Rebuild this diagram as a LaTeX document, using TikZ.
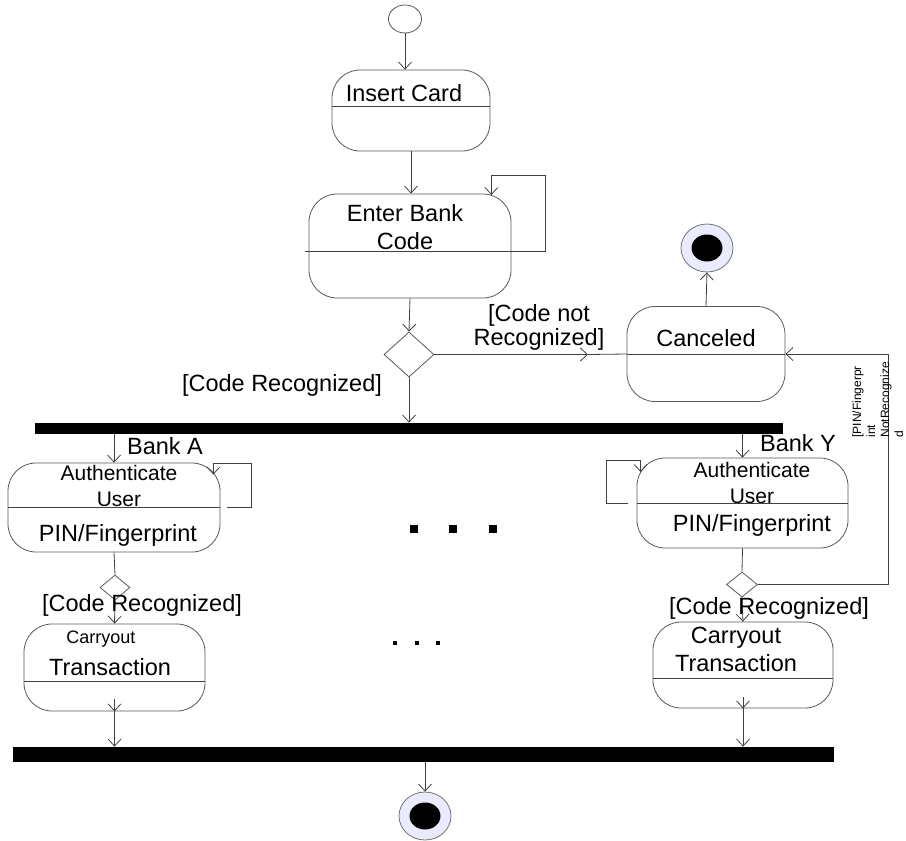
\documentclass[tikz,border=0pt]{standalone}
\usepackage{fontspec}
\setmainfont{Liberation Sans}
\usetikzlibrary{arrows.meta, shapes.geometric}
\tikzset{>={Straight Barb[length=7pt,width=13pt]}}

\begin{document}
\begin{tikzpicture}[
    x = 1pt, y = -1pt,
    line width = 0.8pt,
    state/.style = {draw=black!65, rounded corners=28pt, inner sep=0pt},
    decision/.style = {draw=black!65, diamond, inner sep=0pt},
    bar/.style = {fill=black, inner sep=0pt},
    final/.style = {ellipse, draw=black!55, fill=blue!8, inner sep=0pt,
        minimum width=52pt, minimum height=48pt},
    dot/.style = {ellipse, fill=black, inner sep=0pt,
        minimum width=31pt, minimum height=27pt},
    txt/.style = {inner sep=0pt, align=center, font=\fontsize{23.5}{28}\selectfont},
    midtxt/.style = {inner sep=0pt, align=center, font=\fontsize{21}{26}\selectfont},
    tinytxt/.style = {inner sep=0pt, align=left, font=\fontsize{12}{14}\selectfont},
    conn/.style = {draw=black!75, ->},
    wire/.style = {draw=black!75}
  ]
  \useasboundingbox (0,0) rectangle (906,841);

  % upper part
  \node[ellipse, draw=black!65, inner sep=0pt, minimum width=33pt, minimum height=28pt] (START) at (405,19) {};
  \node[state, minimum width=158pt, minimum height=81pt] (INS) at (411,110.5) {};
  \node[txt] (INSt) at (404,93) {Insert Card};
  \node[state, minimum width=202pt, minimum height=104pt] (EBC) at (410,246) {};
  \node[txt] (EBCt) at (405,227) {Enter Bank\\Code};
  \node[decision, minimum width=50pt, minimum height=45pt] (D1) at (409,354.5) {};
  \node[state, minimum width=158pt, minimum height=95pt] (CANC) at (706,354) {};
  \node[txt] (CANCt) at (706,338) {Canceled};
  \node[final] (END1) at (707,248) {};
  \node[dot] (END1c) at (END1) {};

  \draw[wire] (INS.west |- 0,106) -- (INS.east |- 0,106);
  \draw[wire] (305,251) -- (EBC.east |- 0,251);
  \draw[wire] (CANC.west) -- (CANC.east);

  \draw[conn] (START.south) -- (START.south |- INS.north);
  \draw[conn] (INS.south |- INS.south) -- (INS.south |- EBC.north);
  \draw[conn] ([yshift=-5pt]EBC.east) -- ++(34,0) -- ++(0,-76) -- ++(-54,0) -- ++(0,20);
  \draw[conn] (EBC.south) -- (D1.north);
  \coordinate (MID) at (588,354.5);
  \draw[conn] (D1.east) -- (MID);
  \draw[wire] (MID) -- (CANC.west);
  \draw[conn] (CANC.north) -- (END1.south);
  \node[txt, font=\fontsize{23.5}{24}\selectfont] (NOTREC) at (539,327) {[Code not\\Recognized]};
  \node[txt] (REC) at (282,385) {[Code Recognized]};

  % fork
  \node[bar, minimum width=748pt, minimum height=11pt] (BAR1) at (409,428.5) {};
  \draw[conn] (D1.south) -- (D1.south |- BAR1.north);

  % bank A
  \node[txt] (BANKA) at (165,446) {Bank A};
  \node[state, minimum width=212pt, minimum height=89pt] (AUA) at (114,507.5) {};
  \node[midtxt] (AUAt) at (119,486) {Authenticate\\User};
  \node[txt] (AUAp) at (118,535) {PIN/Fingerprint};
  \draw[wire] (AUA.west) -- (AUA.east);
  \draw[conn] (AUA.north |- BAR1.south) -- (AUA.north);
  \draw[conn] ([xshift=7pt]AUA.east) -- ++(24,0) -- ++(0,-44) -- ++(-38,0) -- ++(0,11);
  \node[decision, minimum width=30pt, minimum height=25pt] (DA) at (115,587.5) {};
  \draw[wire] (AUA.south) -- (DA.north);
  \node[state, minimum width=181pt, minimum height=87pt] (CTA) at (114.5,667.5) {};
  \node[inner sep=0pt, font=\fontsize{18}{20}\selectfont] (CTAc) at (101,639) {Carryout};
  \node[txt] (CTAt) at (110,667) {Transaction};
  \draw[wire] (CTA.west |- 0,681) -- (CTA.east |- 0,681);
  \draw[conn] (DA.south) -- (CTA.north);
  \node[txt] (RECA) at (142,605) {[Code Recognized]};

  % bank Y
  \node[txt] (BANKY) at (798,443) {Bank Y};
  \node[state, minimum width=211pt, minimum height=90pt] (AUY) at (742.5,503) {};
  \node[midtxt] (AUYt) at (752,483) {Authenticate\\User};
  \node[txt] (AUYp) at (752,525) {PIN/Fingerprint};
  \draw[wire] (AUY.west) -- (AUY.east);
  \draw[conn] (AUY.north |- BAR1.south) -- (AUY.north);
  \draw[conn] ([xshift=-9pt]AUY.west) -- ++(-21,0) -- ++(0,-43) -- ++(34,0) -- ++(0,12);
  \node[decision, minimum width=31pt, minimum height=25pt] (DY) at (742,584.5) {};
  \draw[wire] (AUY.south) -- (DY.north);
  \coordinate (LOOPR) at (888,584.5);
  \draw[conn] (DY.east) -- (LOOPR) |- (CANC.east);
  \node[tinytxt, rotate=90, anchor=north west] (PINNR) at (852,438) {[PIN/Fingerpr\\int\\NotRecognize\\d};
  \node[state, minimum width=180pt, minimum height=86pt] (CTY) at (743,665) {};
  \node[txt] (CTYt) at (736,649) {Carryout\\Transaction};
  \draw[wire] (CTY.west |- 0,678) -- (CTY.east |- 0,678);
  \draw[conn] (DY.south) -- (CTY.north);
  \node[txt] (RECY) at (769,608) {[Code Recognized]};

  % dots between branches
  \foreach \x in {414,453,493}
    \fill (\x-4,525) rectangle (\x+4,533);
  \foreach \x in {395,417,438}
    \fill (\x-2,641) rectangle (\x+2,645);

  % join
  \node[bar, minimum width=821pt, minimum height=15pt] (BAR2) at (423.5,754.5) {};
  \draw[conn] ([yshift=12pt]CTA.south) -- (CTA.south);
  \draw[conn] (CTA.south) -- (CTA.south |- BAR2.north);
  \draw[conn] ([yshift=11pt]CTY.south) -- (CTY.south);
  \draw[conn] (CTY.south) -- (CTY.south |- BAR2.north);
  \node[final] (END2) at (425,816) {};
  \node[dot] (END2c) at (END2) {};
  \draw[conn] (END2.north |- BAR2.south) -- (END2.north);
\end{tikzpicture}
\end{document}
